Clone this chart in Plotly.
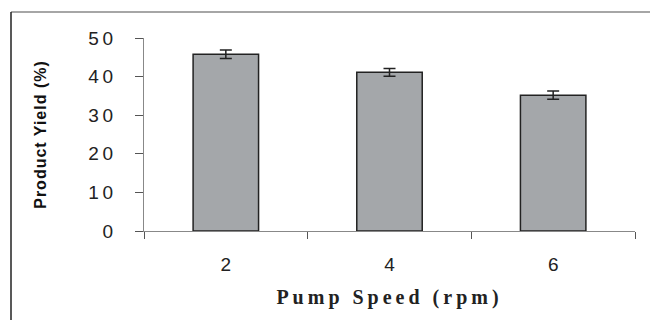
import plotly.graph_objects as go

categories = ["2", "4", "6"]
yield_pct = [45.8, 41.1, 35.2]
yield_err = [1.1, 1.0, 1.1]
y_tickvals = [0, 10, 20, 30, 40, 50]
y_ticktext = ["0", "1\u20090", "2\u20090", "3\u20090", "4\u20090", "5\u20090"]

W, H = 650, 320
ML, MR, MT, MB = 144, 15, 38, 89

fig = go.Figure(
    go.Bar(
        x=categories,
        y=yield_pct,
        width=0.4,
        marker=dict(color="#a4a7aa", line=dict(color="#222222", width=1.5)),
        error_y=dict(type="data", array=yield_err, color="#222222", thickness=1.5, width=6),
    )
)

fig.update_layout(
    width=W,
    height=H,
    margin=dict(l=ML, r=MR, t=MT, b=MB),
    paper_bgcolor="white",
    plot_bgcolor="white",
    showlegend=False,
    font=dict(family="Arial, Liberation Sans, sans-serif", color="#222222"),
    xaxis=dict(
        type="category",
        showline=True,
        linecolor="#888888",
        linewidth=1,
        ticks="outside",
        tickson="boundaries",
        ticklen=7,
        tickcolor="#555555",
        tickfont=dict(size=19, family="Liberation Sans, Arial", color="#222222"),
        ticklabelstandoff=16,
        title=dict(
            text='<span style="letter-spacing:4px">Pump Speed (rpm)</span>',
            font=dict(size=20, family="Liberation Serif, Times New Roman, serif", color="#222222", weight="bold"),
            standoff=16,
        ),
        showgrid=False,
        zeroline=False,
    ),
    yaxis=dict(
        range=[0, 50],
        tickvals=y_tickvals,
        ticktext=y_ticktext,
        showline=True,
        linecolor="#888888",
        linewidth=1,
        ticks="outside",
        ticklen=8,
        tickcolor="#555555",
        tickfont=dict(size=19, family="Liberation Sans, Arial", color="#222222"),
        ticklabelstandoff=18,
        title=dict(
            text='<span style="letter-spacing:1px">Product Yield (%)</span>',
            font=dict(size=16, family="Liberation Sans, Arial", color="#111111", weight="bold"),
            standoff=37,
        ),
        showgrid=False,
        zeroline=False,
    ),
)

pw, ph = W - ML - MR, H - MT - MB
def px_x(p):
    return (p - ML) / pw
def px_y(p):
    return (H - MB - p) / ph

fig.add_shape(type="line", xref="paper", yref="paper",
              x0=px_x(11), x1=px_x(650), y0=px_y(12), y1=px_y(12),
              line=dict(color="#888888", width=1.5))
fig.add_shape(type="line", xref="paper", yref="paper",
              x0=px_x(11), x1=px_x(11), y0=px_y(12), y1=px_y(321),
              line=dict(color="#222222", width=1.5))

fig.write_html("out.html")
